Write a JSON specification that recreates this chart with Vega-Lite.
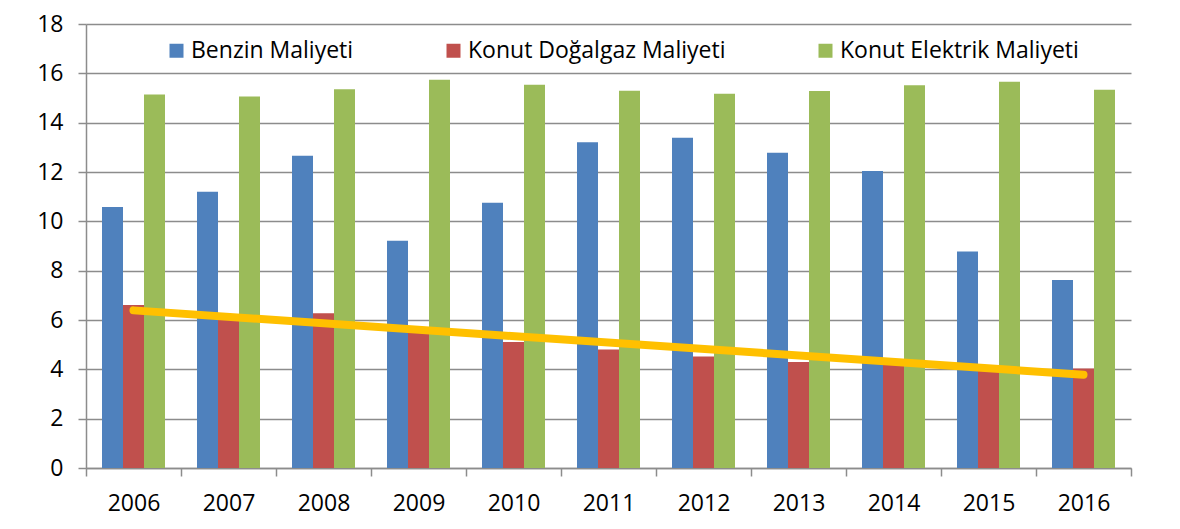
{
  "$schema": "https://vega.github.io/schema/vega-lite/v6.json",
  "width": 1045,
  "height": 444,
  "autosize": {"type": "none"},
  "padding": {"left": 86, "top": 24, "right": 49, "bottom": 61},
  "background": "white",
  "config": {"view": {"stroke": null}, "font": "Open Sans"},
  "datasets": {
    "costs": [
      {"year": "2006", "series": "Benzin Maliyeti", "value": 10.58},
      {"year": "2007", "series": "Benzin Maliyeti", "value": 11.2},
      {"year": "2008", "series": "Benzin Maliyeti", "value": 12.66},
      {"year": "2009", "series": "Benzin Maliyeti", "value": 9.21},
      {"year": "2010", "series": "Benzin Maliyeti", "value": 10.75},
      {"year": "2011", "series": "Benzin Maliyeti", "value": 13.21},
      {"year": "2012", "series": "Benzin Maliyeti", "value": 13.39},
      {"year": "2013", "series": "Benzin Maliyeti", "value": 12.78},
      {"year": "2014", "series": "Benzin Maliyeti", "value": 12.04},
      {"year": "2015", "series": "Benzin Maliyeti", "value": 8.78},
      {"year": "2016", "series": "Benzin Maliyeti", "value": 7.62},
      {"year": "2006", "series": "Konut Doğalgaz Maliyeti", "value": 6.61},
      {"year": "2007", "series": "Konut Doğalgaz Maliyeti", "value": 6.1},
      {"year": "2008", "series": "Konut Doğalgaz Maliyeti", "value": 6.27},
      {"year": "2009", "series": "Konut Doğalgaz Maliyeti", "value": 5.7},
      {"year": "2010", "series": "Konut Doğalgaz Maliyeti", "value": 5.11},
      {"year": "2011", "series": "Konut Doğalgaz Maliyeti", "value": 4.8},
      {"year": "2012", "series": "Konut Doğalgaz Maliyeti", "value": 4.52},
      {"year": "2013", "series": "Konut Doğalgaz Maliyeti", "value": 4.3},
      {"year": "2014", "series": "Konut Doğalgaz Maliyeti", "value": 4.2},
      {"year": "2015", "series": "Konut Doğalgaz Maliyeti", "value": 4.1},
      {"year": "2016", "series": "Konut Doğalgaz Maliyeti", "value": 4.03},
      {"year": "2006", "series": "Konut Elektrik Maliyeti", "value": 15.14},
      {"year": "2007", "series": "Konut Elektrik Maliyeti", "value": 15.06},
      {"year": "2008", "series": "Konut Elektrik Maliyeti", "value": 15.35},
      {"year": "2009", "series": "Konut Elektrik Maliyeti", "value": 15.74},
      {"year": "2010", "series": "Konut Elektrik Maliyeti", "value": 15.54},
      {"year": "2011", "series": "Konut Elektrik Maliyeti", "value": 15.29},
      {"year": "2012", "series": "Konut Elektrik Maliyeti", "value": 15.17},
      {"year": "2013", "series": "Konut Elektrik Maliyeti", "value": 15.28},
      {"year": "2014", "series": "Konut Elektrik Maliyeti", "value": 15.52},
      {"year": "2015", "series": "Konut Elektrik Maliyeti", "value": 15.66},
      {"year": "2016", "series": "Konut Elektrik Maliyeti", "value": 15.33}
    ],
    "trend": [
      {"year": "2006", "trend": 6.39},
      {"year": "2016", "trend": 3.78}
    ]
  },
  "layer": [
    {
      "data": {"name": "costs"},
      "mark": {"type": "bar"},
      "encoding": {
        "x": {
          "field": "year",
          "type": "nominal",
          "scale": {"paddingInner": 0, "paddingOuter": 0},
          "axis": {
            "title": null,
            "labelAngle": 0,
            "labelFontSize": 23,
            "labelColor": "black",
            "labelPadding": 16,
            "tickBand": "extent",
            "tickSize": 8,
            "tickColor": "#8c8c8c",
            "tickWidth": 1.5,
            "domainColor": "#8c8c8c",
            "domainWidth": 1.5,
            "grid": false
          }
        },
        "xOffset": {
          "field": "series",
          "type": "nominal",
          "sort": ["Benzin Maliyeti", "Konut Doğalgaz Maliyeti", "Konut Elektrik Maliyeti"],
          "scale": {"paddingInner": 0, "paddingOuter": 0.762}
        },
        "y": {
          "field": "value",
          "type": "quantitative",
          "scale": {"domain": [0, 18], "nice": false},
          "axis": {
            "title": null,
            "values": [0, 2, 4, 6, 8, 10, 12, 14, 16, 18],
            "labelFontSize": 23,
            "labelColor": "black",
            "labelPadding": 15,
            "tickSize": 8,
            "tickColor": "#8c8c8c",
            "tickWidth": 1.5,
            "domainColor": "#8c8c8c",
            "domainWidth": 1.5,
            "grid": true,
            "gridColor": "#8c8c8c",
            "gridWidth": 1.5
          }
        },
        "color": {
          "field": "series",
          "type": "nominal",
          "sort": ["Benzin Maliyeti", "Konut Doğalgaz Maliyeti", "Konut Elektrik Maliyeti"],
          "scale": {
            "domain": ["Benzin Maliyeti", "Konut Doğalgaz Maliyeti", "Konut Elektrik Maliyeti"],
            "range": ["#4F81BD", "#C0504D", "#9BBB59"]
          },
          "legend": {
            "title": null,
            "orient": "none",
            "legendX": 79,
            "legendY": 15,
            "direction": "horizontal",
            "columns": 3,
            "padding": 0,
            "symbolType": "square",
            "symbolSize": 196,
            "symbolStrokeWidth": 0,
            "labelFontSize": 23,
            "labelColor": "black",
            "labelOffset": 3,
            "labelLimit": 400,
            "columnPadding": 88
          }
        }
      }
    },
    {
      "data": {"name": "trend"},
      "mark": {"type": "line", "color": "#FFC000", "strokeWidth": 8, "strokeCap": "round"},
      "encoding": {
        "x": {"field": "year", "type": "nominal"},
        "y": {"field": "trend", "type": "quantitative"}
      }
    }
  ]
}
